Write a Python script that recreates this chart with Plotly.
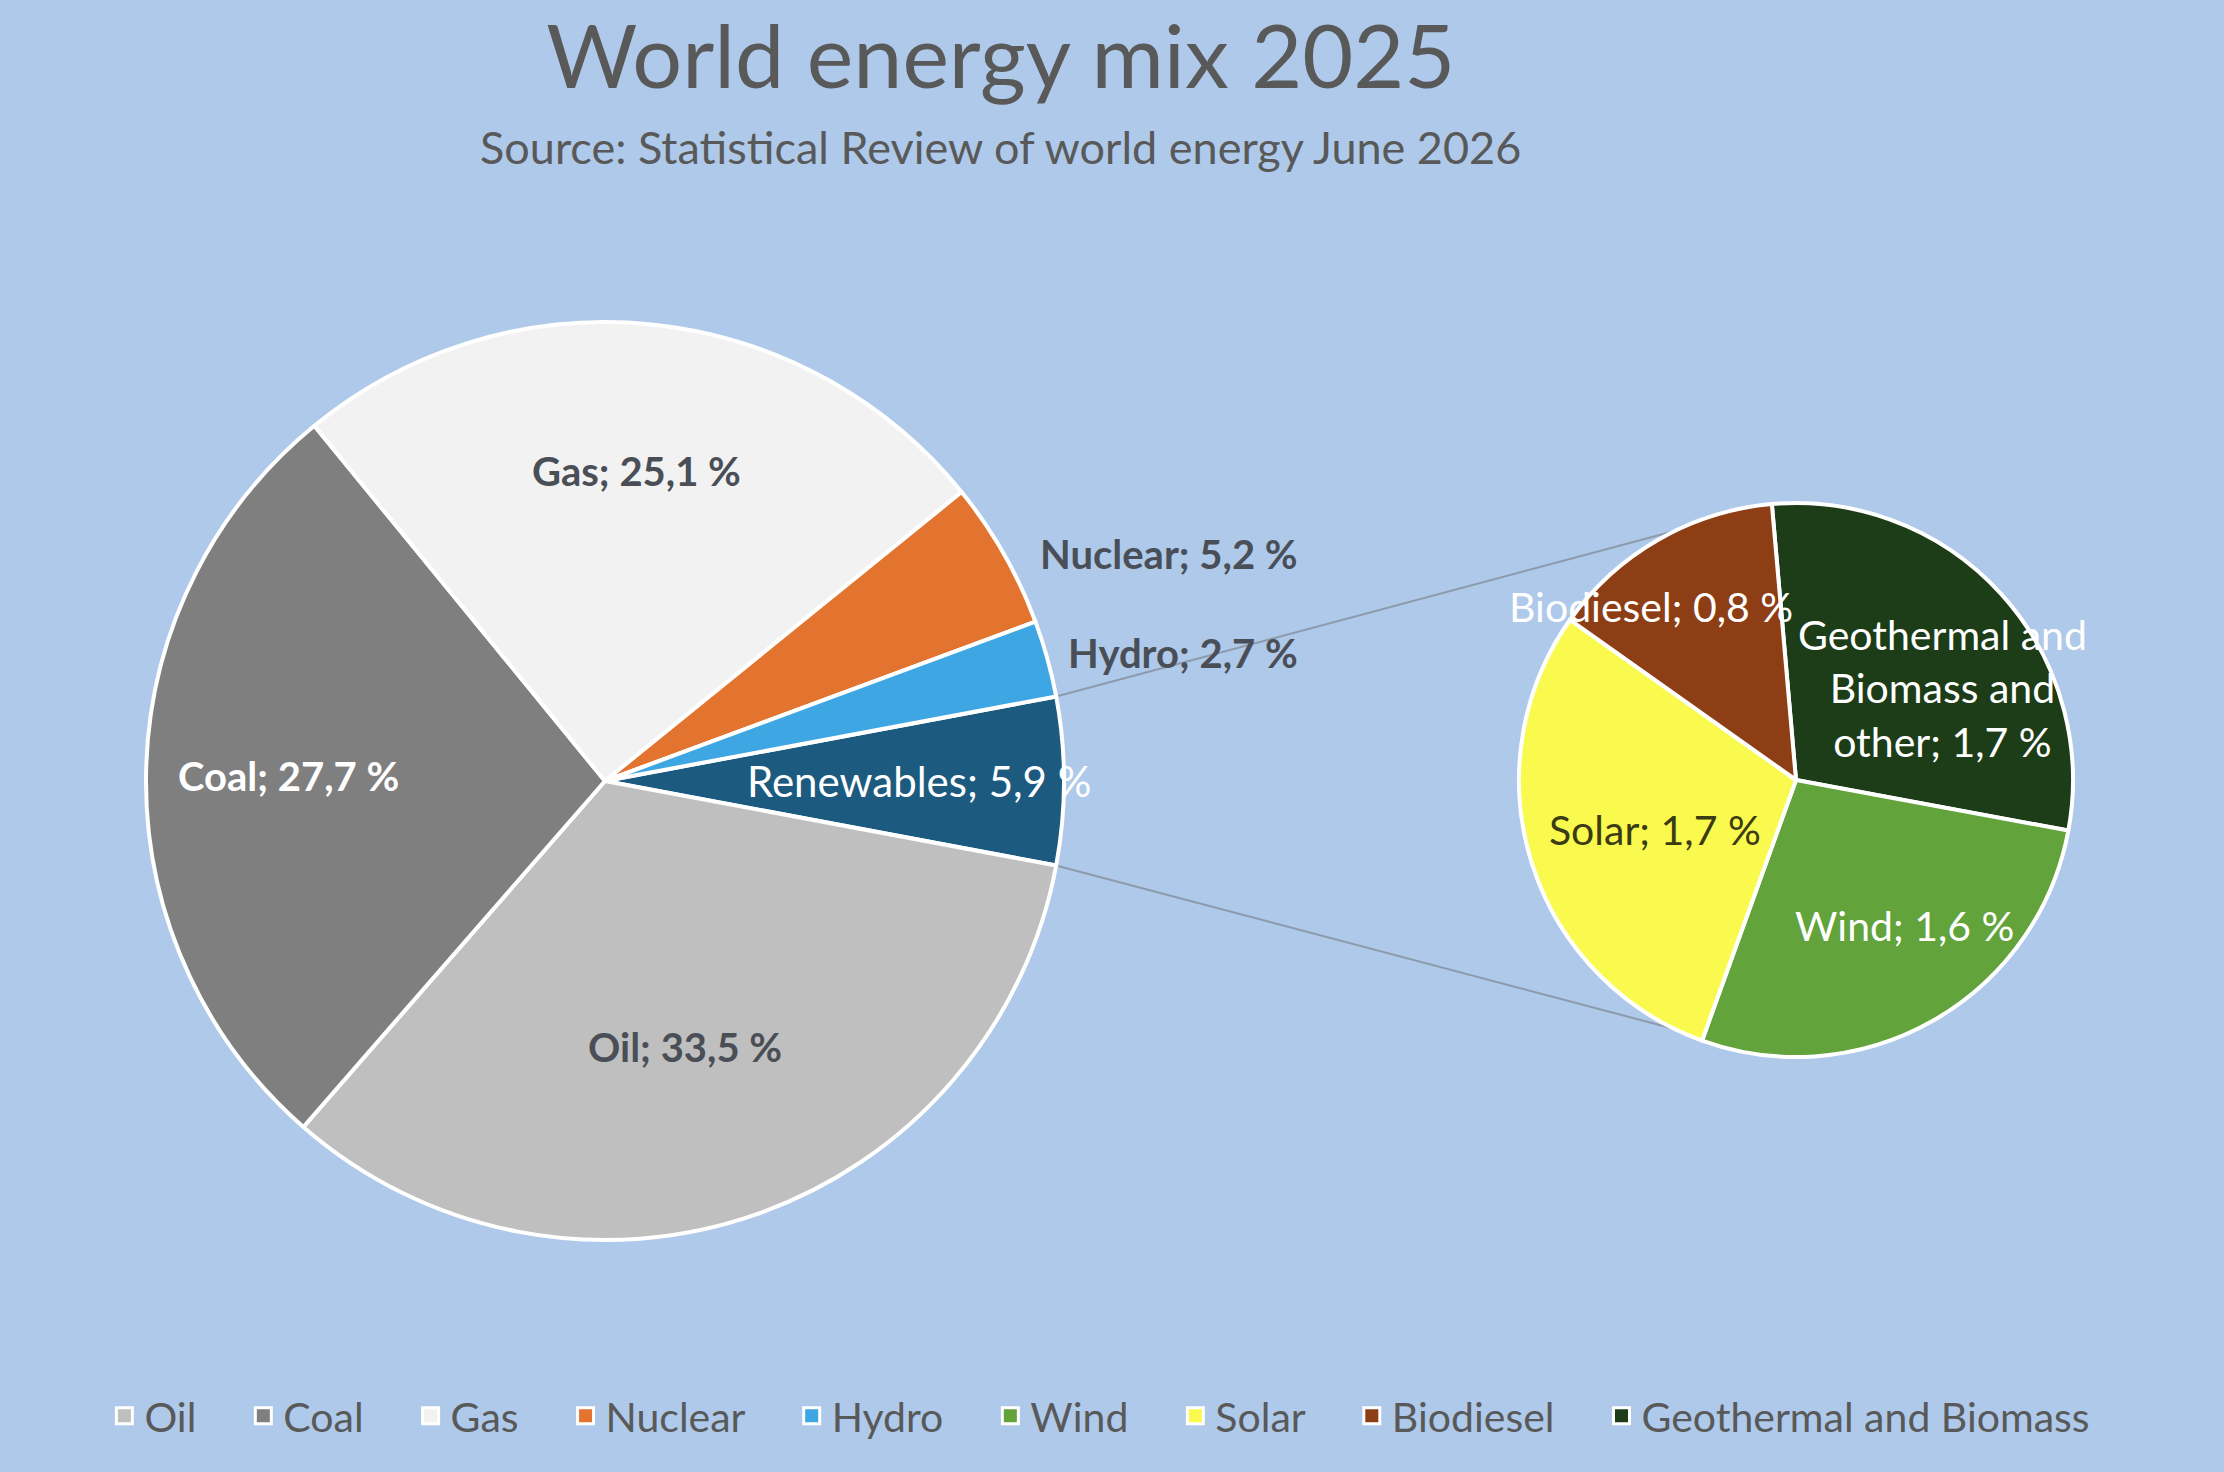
import math
import plotly.graph_objects as go

# main pie (clockwise, starting with the split-out slice)
main_labels = ["Renewables", "Oil", "Coal", "Gas", "Nuclear", "Hydro"]
main_values = [5.9, 33.5, 27.7, 25.1, 5.2, 2.7]
main_text = ["Renewables; 5,9 %", "Oil; 33,5 %", "Coal; 27,7 %", "Gas; 25,1 %",
             "Nuclear; 5,2 %", "Hydro; 2,7 %"]
main_colors = ["#1d5a80", "#bfbfbf", "#7f7f7f", "#f2f2f2", "#e2742f", "#3ea6e2"]

# secondary pie (breakdown of renewables)
sub_labels = ["Geothermal and Biomass and other", "Wind", "Solar", "Biodiesel"]
sub_values = [1.7, 1.6, 1.7, 0.8]
sub_text = ["Geothermal and<br>Biomass and<br>other; 1,7 %", "Wind; 1,6 %",
            "Solar; 1,7 %", "Biodiesel; 0,8 %"]
sub_colors = ["#1c3d17", "#62a33b", "#fafa4e", "#8e3e14"]

legend_labels = ["Oil", "Coal", "Gas", "Nuclear", "Hydro", "Wind", "Solar",
                 "Biodiesel", "Geothermal and Biomass"]
legend_colors = ["#bfbfbf", "#7f7f7f", "#f2f2f2", "#e2742f", "#3ea6e2",
                 "#62a33b", "#fafa4e", "#8e3e14", "#1c3d17"]

W, H = 2224, 1472
BG = "#aec9ea"
FONT = "Lato, Open Sans, sans-serif"
DARK = "#4a4f57"
PAD = "\u00a0" * 4

# pie geometry in pixels
main_c, main_r = (605, 781), 459
sub_c, sub_r = (1796, 780), 277
main_rot = 90 - main_values[0] / sum(main_values) * 180
sub_rot = -5


def domain(c, r):
    return dict(x=[(c[0] - r) / W, (c[0] + r) / W],
                y=[1 - (c[1] + r) / H, 1 - (c[1] - r) / H])


def point(c, r, ang):
    # ang: degrees clockwise from 12 o'clock -> paper coords
    a = math.radians(ang)
    return ((c[0] + r * math.sin(a)) / W, 1 - (c[1] - r * math.cos(a)) / H)


def mid_angles(values, rot):
    tot = sum(values)
    out, start = [], rot
    for v in values:
        span = v / tot * 360
        out.append((start, start + span / 2, start + span))
        start += span
    return out


fig = go.Figure()
fig.add_trace(go.Pie(
    labels=main_labels, values=main_values, sort=False, direction="clockwise",
    rotation=main_rot, marker=dict(colors=main_colors, line=dict(color="white", width=4)),
    textinfo="none", hoverinfo="label+percent", domain=domain(main_c, main_r),
    showlegend=False))
fig.add_trace(go.Pie(
    labels=sub_labels, values=sub_values, sort=False, direction="clockwise",
    rotation=sub_rot, marker=dict(colors=sub_colors, line=dict(color="white", width=4)),
    textinfo="none", hoverinfo="label+value", domain=domain(sub_c, sub_r),
    showlegend=False))

for name, col in zip(legend_labels, legend_colors):
    fig.add_trace(go.Scatter(
        x=[None], y=[None], mode="markers", name=name + PAD,
        marker=dict(symbol="square", size=18, color=col, line=dict(color="white", width=3))))

annotations = []
# main labels: radius factor, angle offset, text colour, bold, anchor
main_style = [
    (0.685, 0, "white", False, "center"),
    (0.605, 2.4, DARK, True, "center"),
    (0.69, 0, "white", True, "center"),
    (0.68, 0, DARK, True, "center"),
    (1.065, 2, DARK, True, "left"),
    (1.043, 0, DARK, True, "left"),
]
for (s, m, e), txt, (rf, da, col, bold, anc) in zip(mid_angles(main_values, main_rot), main_text, main_style):
    x, y = point(main_c, main_r * rf, m + da)
    annotations.append(dict(
        x=x, y=y, xref="paper", yref="paper", showarrow=False, xanchor=anc, yanchor="middle",
        text=f"<b>{txt}</b>" if bold else txt,
        font=dict(family=FONT, size=40 if bold else 42, color=col)))

sub_style = [(0.624, 10, "white"), (0.655, -7, "white"), (0.54, -2, "#3b3b14"), (0.815, -10, "white")]
for (s, m, e), txt, (rf, da, col) in zip(mid_angles(sub_values, sub_rot), sub_text, sub_style):
    x, y = point(sub_c, sub_r * rf, m + da)
    annotations.append(dict(
        x=x, y=y, xref="paper", yref="paper", showarrow=False, xanchor="center", yanchor="middle",
        text=txt, font=dict(family=FONT, size=41, color=col)))

annotations.append(dict(
    x=0.45, y=0.90, xref="paper", yref="paper", showarrow=False, yanchor="middle",
    text="Source: Statistical Review of world energy June 2026",
    font=dict(family=FONT, size=45, color="#595959")))

# connector lines from the split slice to the secondary pie
ren = mid_angles(main_values, main_rot)[0]
shapes = []
for a_main, a_sub in [(ren[0], 334), (ren[2], 206)]:
    x0, y0 = point(main_c, main_r, a_main)
    x1, y1 = point(sub_c, sub_r, a_sub)
    shapes.append(dict(type="line", xref="paper", yref="paper", x0=x0, y0=y0, x1=x1, y1=y1,
                       line=dict(color="#8c9aab", width=2), layer="below"))

fig.update_layout(
    width=W, height=H,
    margin=dict(l=0, r=0, t=0, b=0),
    paper_bgcolor=BG, plot_bgcolor=BG,
    title=dict(text="World energy mix 2025", x=0.45, y=0.961, xanchor="center", yanchor="middle",
               font=dict(family=FONT, size=88, color="#595959")),
    xaxis=dict(visible=False), yaxis=dict(visible=False),
    legend=dict(orientation="h", x=0.504, y=0.038, xanchor="center", yanchor="middle",
                font=dict(family=FONT, size=41, color="#595959"), itemwidth=30,
                bgcolor="rgba(0,0,0,0)"),
    annotations=annotations,
    shapes=shapes,
)

fig.write_html("out.html", config={"displayModeBar": False},
               post_script="document.body.style.margin='0';")
